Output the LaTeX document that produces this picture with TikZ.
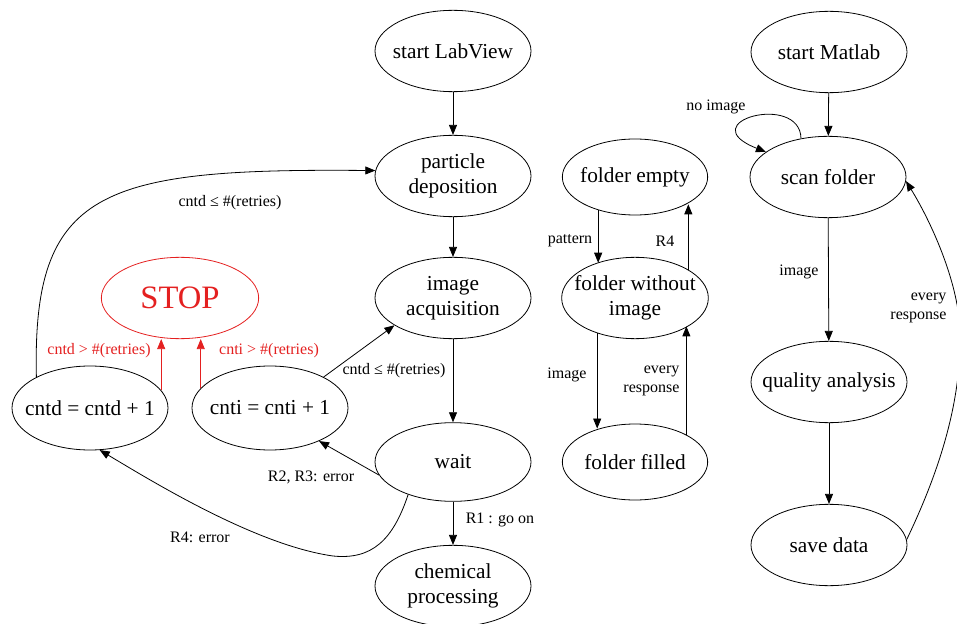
\documentclass[tikz,border=0pt]{standalone}
\usepackage{fontspec}
\setmainfont{Liberation Serif}
\usetikzlibrary{shapes.geometric,arrows.meta,calc}
\definecolor{stopred}{RGB}{228,32,32}
\tikzset{
  st/.style={ellipse, draw, line width=0.6pt, minimum width=117pt, minimum height=61pt,
    inner xsep=-14pt, inner ysep=-9pt, align=center, font=\fontsize{16}{19}\selectfont},
  arr/.style={-{Triangle[length=7.5pt,width=6pt]}, line width=0.6pt},
  lbl/.style={font=\fontsize{12}{14}\selectfont, inner sep=1pt, align=center},
}
\begin{document}
\begin{tikzpicture}[x=0.75pt,y=-0.75pt]
\useasboundingbox (0,0) rectangle (957,624);
% LabView column
\node[st] (lab) at (453,51) {start LabView};
\node[st] (part) at (453,176) {particle\\deposition};
\node[st] (acq) at (453,298) {image\\acquisition};
\node[st, minimum height=59pt] (wait) at (453,462) {wait};
\node[st] (chem) at (453,586) {chemical\\processing};
\node[st, draw=stopred, text=stopred, font=\fontsize{24.5}{28}\selectfont, minimum width=118pt, minimum height=61pt] (stop) at (180,298) {STOP};
\node[st, minimum height=63pt] (cntd) at (90,408) {cntd = cntd + 1};
\node[st, minimum height=63pt] (cnti) at (270,408) {cnti = cnti + 1};
% folder column
\node[st, minimum width=109pt, minimum height=57pt] (fe) at (635,177) {folder empty};
\node[st, minimum width=110pt, minimum height=61pt] (fw) at (635,298) {folder without\\image};
\node[st, minimum width=109pt, minimum height=57pt] (ff) at (635,462) {folder filled};
% Matlab column
\node[st] (mat) at (829,52) {start Matlab};
\node[st, minimum height=61pt] (scan) at (828,177) {scan folder};
\node[st] (qa) at (829,382) {quality analysis};
\node[st] (save) at (829,545) {save data};

% LabView edges
\draw[arr] (lab) -- (part);
\draw[arr] (part) -- (acq);
\draw[arr] (acq) -- (wait);
\draw[arr] (wait) -- (chem);
\node[lbl] (l1) at (500,520) {R1 : go on};
\draw[arr] (wait.190) -- (cnti.-34);
\node[lbl] (l2) at (311,477) {R2, R3: error};
\draw[arr] (wait.216) .. controls (393,540) and (372,560) .. (333,556)
  .. controls (255,545) and (150,480) .. (cntd.-77);
\node[lbl] (l3) at (200,537) {R4: error};
\draw[arr] (cnti.30) -- (acq.205);
\node[lbl] (l4) at (394,371) {cntd ≤ \#(retries)};
\draw[arr] (cntd.150) .. controls (32,190) and (100,168) .. (part.176);
\node[lbl] (l5) at (230,203) {cntd ≤ \#(retries)};
\draw[arr, stopred] (cntd.14) -- (cntd.14 |- stop.south);
\draw[arr, stopred] (cnti.164) -- (cnti.164 |- stop.south);
\node[lbl, text=stopred] (l6) at (99,351) {cntd > \#(retries)};
\node[lbl, text=stopred] (l7) at (269,351) {cnti > \#(retries)};

% folder edges
\draw[arr] (fe.222) -- (fe.222 |- fw.137);
\node[lbl] (l8) at (570,241) {pattern};
\draw[arr] (fw.28) -- (fw.28 |- fe.-28);
\node[lbl] (l9) at (665,241) {R4};
\draw[arr] (fw.223) -- (fw.223 |- ff.137);
\node[lbl] (l10) at (567,375) {image};
\draw[arr] (ff.28) -- (ff.28 |- fw.-28);
\node[lbl, align=right, anchor=east] (l11) at (681,381) {every\\response};

% Matlab edges
\draw[arr] (mat) -- (scan);
\draw[arr] (scan.125) .. controls (800,92) and (690,122) .. (scan.158);
\node[lbl] (l12) at (716,107) {no image};
\draw[arr] (scan) -- (qa);
\node[lbl] (l13) at (799,272) {image};
\draw[arr] (qa) -- (save);
\draw[arr] (save.4) .. controls (940,470) and (962,400) .. (960,330)
  .. controls (958,280) and (930,220) .. (scan.-3);
\node[lbl, align=right, anchor=east] (l14) at (948,308) {every\\response};
\end{tikzpicture}
\end{document}
